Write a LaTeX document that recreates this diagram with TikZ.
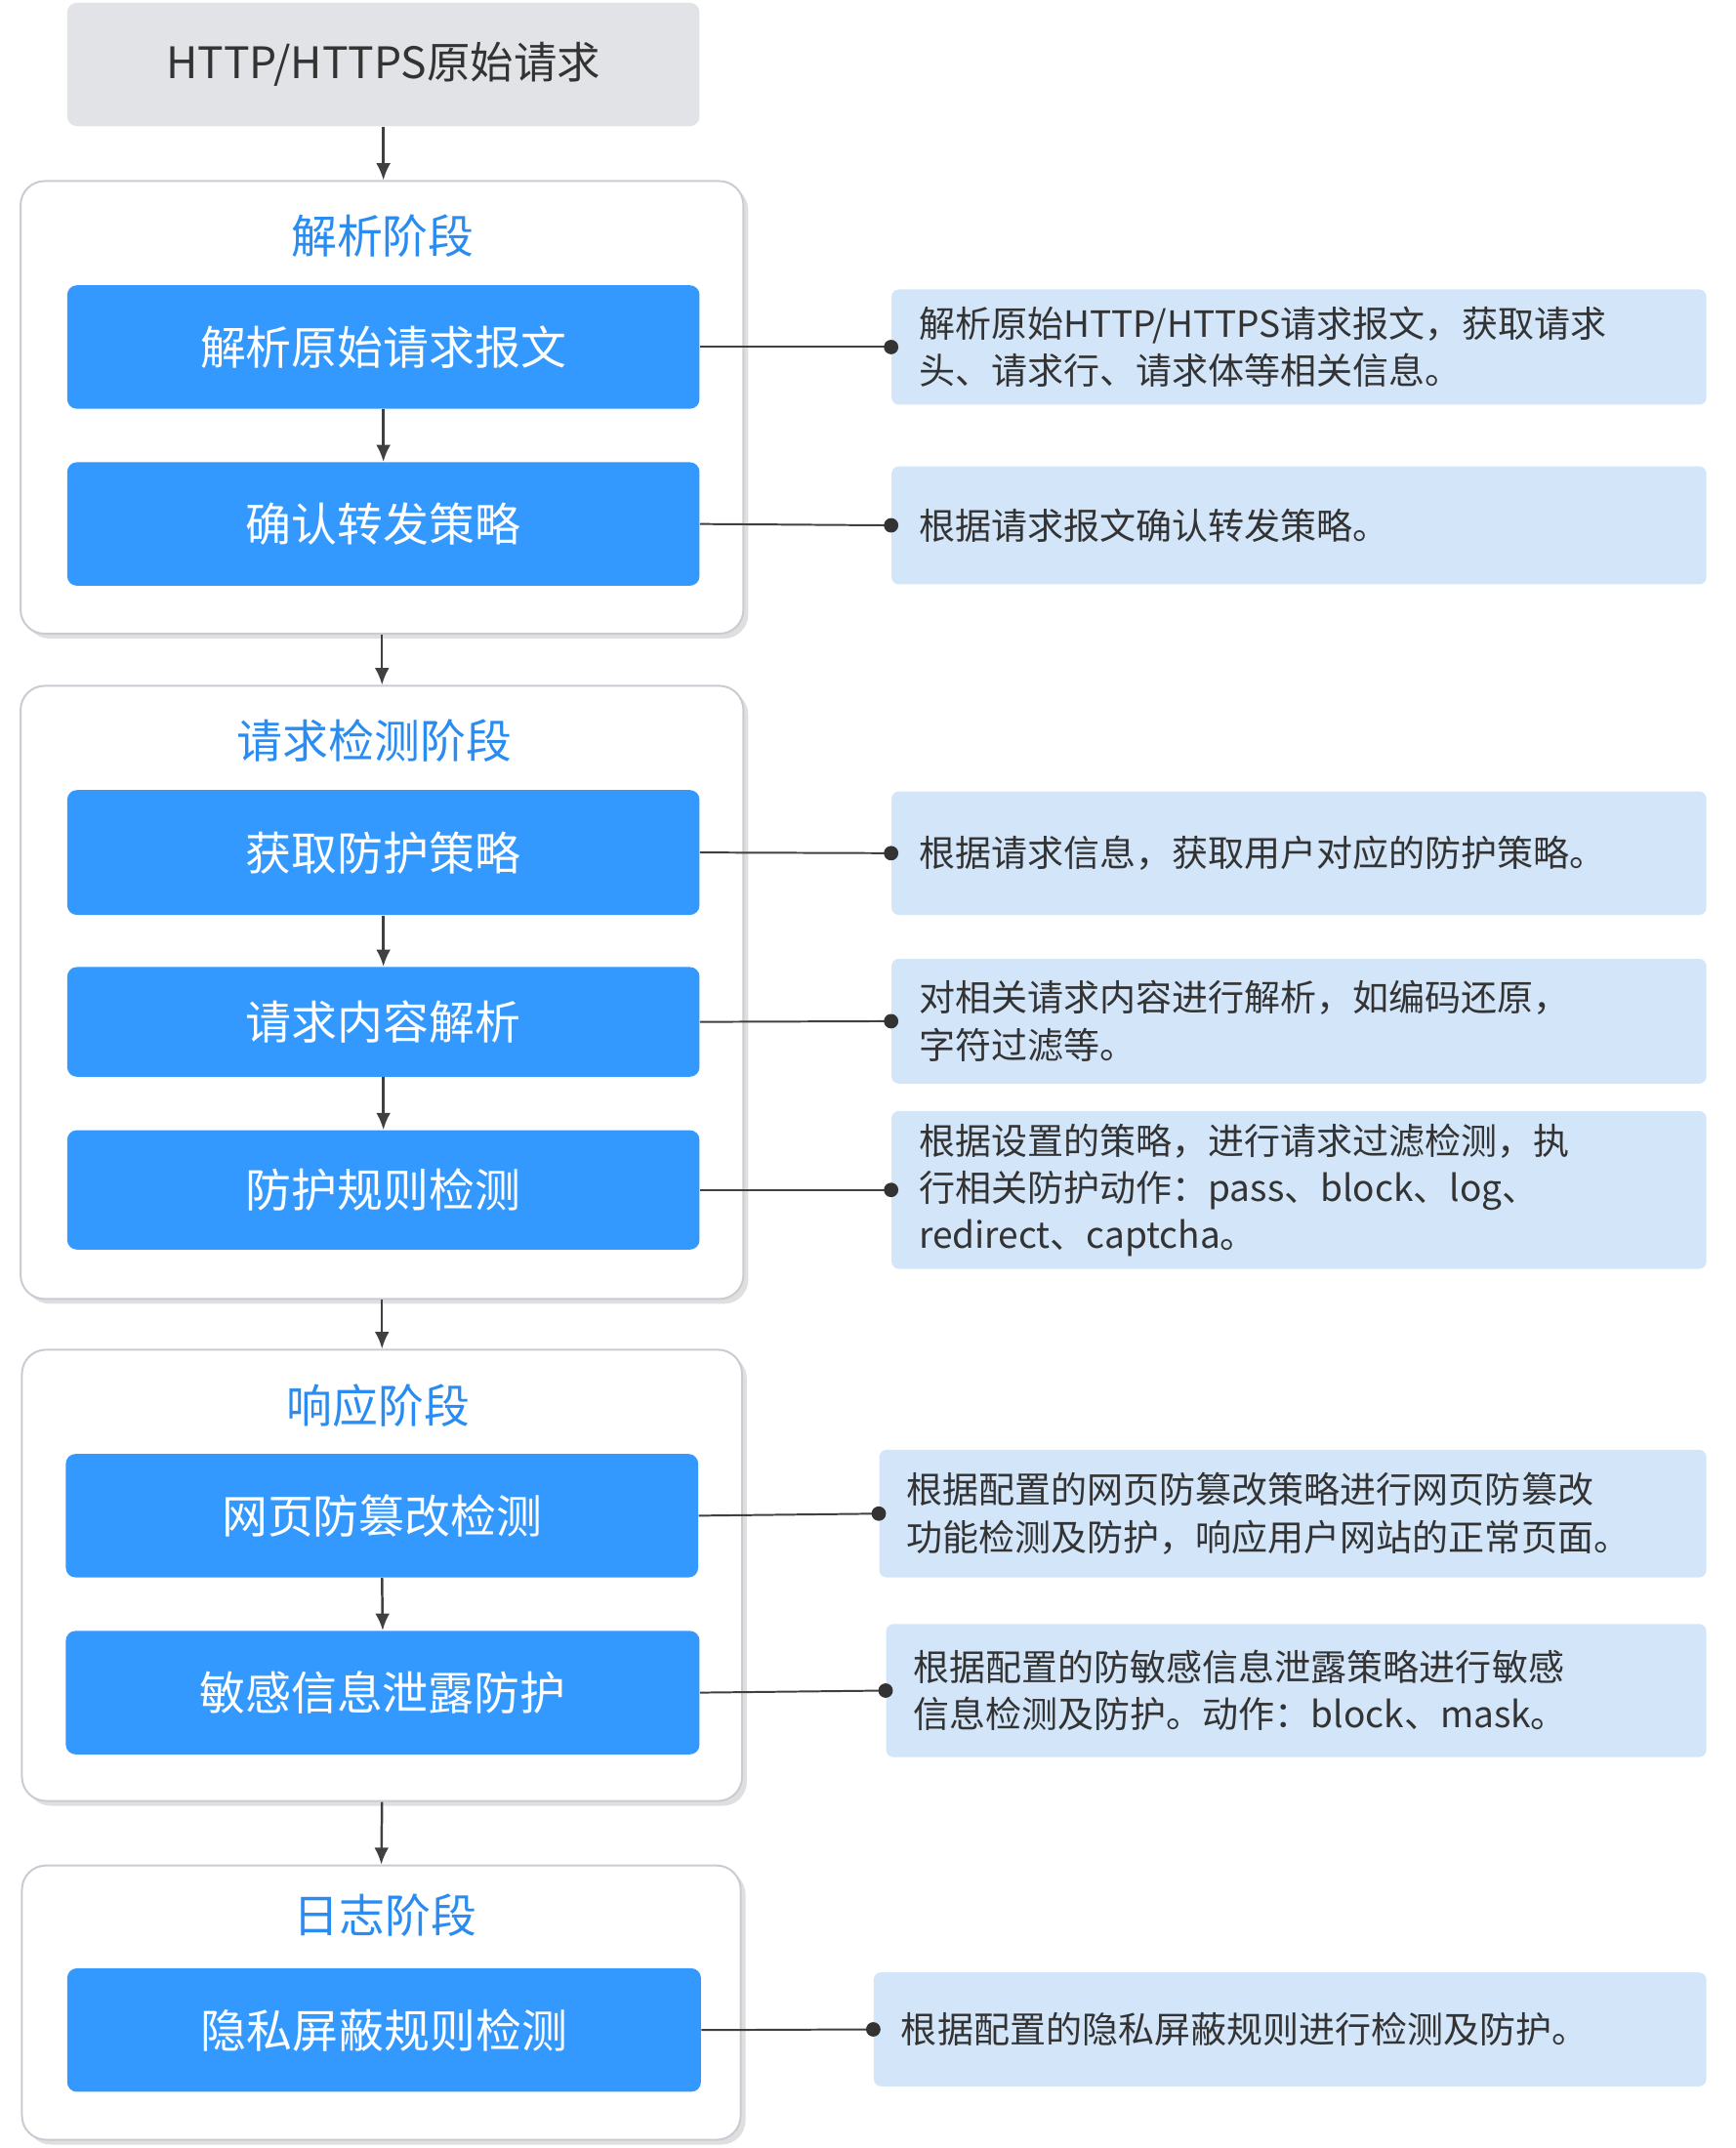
\documentclass[tikz,border=0pt]{standalone}
\usepackage{fontspec}
\setmainfont{Noto Sans CJK SC}
\usetikzlibrary{fit,shadows,arrows.meta}
\definecolor{bluebox}{HTML}{3399FF}
\definecolor{titleblue}{HTML}{2A8CF0}
\definecolor{descfill}{HTML}{D3E5F8}
\definecolor{graybox}{HTML}{E1E3E6}
\definecolor{txt}{HTML}{333333}
\definecolor{frameline}{HTML}{C8CCD2}
\tikzset{
  every node/.style={inner sep=0pt},
  bluerect/.style={fill=bluebox, rounded corners=4pt, text=white, font=\fontsize{19}{23}\selectfont},
  frame/.style={draw=frameline, line width=0.8pt, fill=white, rounded corners=10pt, drop shadow={shadow xshift=2pt,shadow yshift=-2pt,opacity=0.25}},
  stitle/.style={text=titleblue, font=\fontsize{19}{23}\selectfont},
  desc/.style={fill=descfill, rounded corners=3pt},
  desctext/.style={anchor=west, align=left, text=txt, font=\fontsize{15}{19.5}\selectfont},
  flow/.style={draw=black!75, line width=1pt, -{Latex[length=7pt,width=6pt]}},
  conn/.style={draw=black!75, line width=0.8pt},
  dot/.style={circle, fill=black!80, minimum size=6pt},
}
\begin{document}
\begin{tikzpicture}[x=0.02cm,y=-0.02cm]
\useasboundingbox (0,0) rectangle (1265,1566);
% top
\node[fill=graybox, rounded corners=4pt, fit={(49,2) (510,92)}] (top) {};
\node[text=txt, font=\fontsize{18}{22}\selectfont] at (top.center) {HTTP/HTTPS原始请求};
% frames
\node[frame, fit={(15,132) (542,462)}] (f1) {};
\node[frame, fit={(15,500) (542,947)}] (f2) {};
\node[frame, fit={(16,984) (541,1313)}] (f3) {};
\node[frame, fit={(16,1360) (540,1560)}] (f4) {};
\node[stitle] (t1) at (279,172) {解析阶段};
\node[stitle] (t2) at (273,540) {请求检测阶段};
\node[stitle] (t3) at (276,1025) {响应阶段};
\node[stitle] (t4) at (281,1396) {日志阶段};
% blue boxes
\node[bluerect, fit={(49,208) (510,298)}] (b1) {}; \node[text=white,font=\fontsize{19}{23}\selectfont] at (b1.center) {解析原始请求报文};
\node[bluerect, fit={(49,337) (510,427)}] (b2) {}; \node[text=white,font=\fontsize{19}{23}\selectfont] at (b2.center) {确认转发策略};
\node[bluerect, fit={(49,576) (510,667)}] (b3) {}; \node[text=white,font=\fontsize{19}{23}\selectfont] at (b3.center) {获取防护策略};
\node[bluerect, fit={(49,705) (510,785)}] (b4) {}; \node[text=white,font=\fontsize{19}{23}\selectfont] at (b4.center) {请求内容解析};
\node[bluerect, fit={(49,824) (510,911)}] (b5) {}; \node[text=white,font=\fontsize{19}{23}\selectfont] at (b5.center) {防护规则检测};
\node[bluerect, fit={(48,1060) (509,1150)}] (b6) {}; \node[text=white,font=\fontsize{19}{23}\selectfont] at (b6.center) {网页防篡改检测};
\node[bluerect, fit={(48,1189) (510,1279)}] (b7) {}; \node[text=white,font=\fontsize{19}{23}\selectfont] at (b7.center) {敏感信息泄露防护};
\node[bluerect, fit={(49,1435) (511,1525)}] (b8) {}; \node[text=white,font=\fontsize{19}{23}\selectfont] at (b8.center) {隐私屏蔽规则检测};
% descs
\node[desc, fit={(650,211) (1244,295)}] (d1) {};
\node[desctext] at ([xshift=0.4cm]d1.west) {解析原始HTTP/HTTPS请求报文，获取请求\\头、请求行、请求体等相关信息。};
\node[desc, fit={(650,340) (1244,426)}] (d2) {};
\node[desctext] at ([xshift=0.4cm]d2.west) {根据请求报文确认转发策略。};
\node[desc, fit={(650,577) (1244,667)}] (d3) {};
\node[desctext] at ([xshift=0.4cm]d3.west) {根据请求信息，获取用户对应的防护策略。};
\node[desc, fit={(650,699) (1244,790)}] (d4) {};
\node[desctext] at ([xshift=0.4cm]d4.west) {对相关请求内容进行解析，如编码还原，\\字符过滤等。};
\node[desc, fit={(650,810) (1244,925)}] (d5) {};
\node[desctext] at ([xshift=0.4cm]d5.west) {根据设置的策略，进行请求过滤检测，执\\行相关防护动作：pass、block、log、\\redirect、captcha。};
\node[desc, fit={(641,1057) (1244,1150)}] (d6) {};
\node[desctext] at ([xshift=0.4cm]d6.west) {根据配置的网页防篡改策略进行网页防篡改\\功能检测及防护，响应用户网站的正常页面。};
\node[desc, fit={(646,1184) (1244,1281)}] (d7) {};
\node[desctext] at ([xshift=0.4cm]d7.west) {根据配置的防敏感信息泄露策略进行敏感\\信息检测及防护。动作：block、mask。};
\node[desc, fit={(637,1438) (1244,1521)}] (d8) {};
\node[desctext] at ([xshift=0.4cm]d8.west) {根据配置的隐私屏蔽规则进行检测及防护。};
% flow arrows
\draw[flow] (top.south) -- (f1.north -| top.south);
\draw[flow] (b1.south) -- (b2.north);
\draw[flow] (f1.south) -- (f2.north);
\draw[flow] (b3.south) -- (b4.north);
\draw[flow] (b4.south) -- (b5.north);
\draw[flow] (f2.south) -- (f3.north);
\draw[flow] (b6.south) -- (b7.north);
\draw[flow] (f3.south) -- (f4.north);
% connectors
\foreach \i in {1,...,8}{
  \draw[conn] (b\i.east) -- (d\i.west);
  \node[dot] at (d\i.west) {};
}
\end{tikzpicture}
\end{document}
